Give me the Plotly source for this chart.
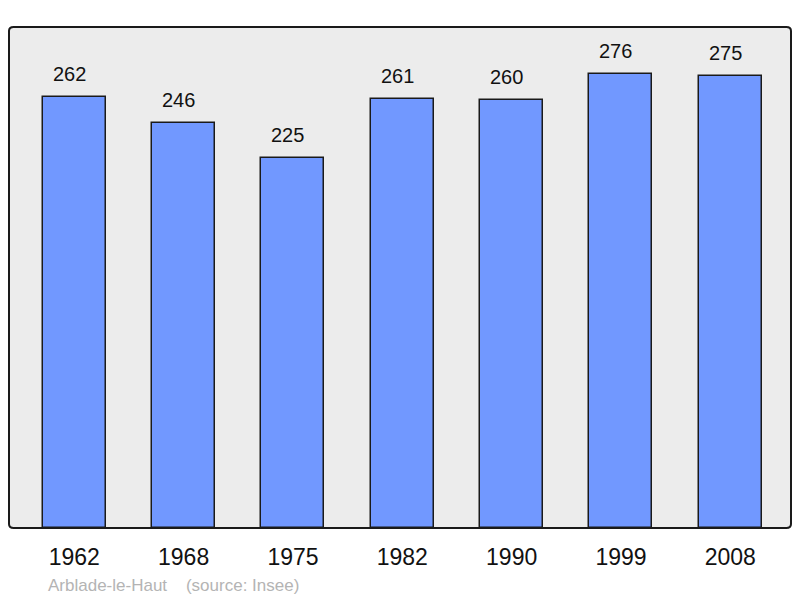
import plotly.graph_objs as go

# Population data (Insee)
years = ['1962', '1968', '1975', '1982', '1990', '1999', '2008']
population = [262, 246, 225, 261, 260, 276, 275]
commune = 'Arblade-le-Haut'
source = '(source: Insee)'

bar_color = '#7198ff'
frame_color = '#1a1a1a'

fig = go.Figure()

fig.add_trace(go.Bar(x=years,
                     y=population,
                     width=0.576,
                     marker={'color': bar_color,
                             'line': {'color': frame_color, 'width': 1.5}},
                     hoverinfo='x+y'))

# value labels above bars (category axis -> use index positions)
for i, val in enumerate(population):
    fig.add_annotation(x=i, y=val, text=str(val),
                       showarrow=False, xshift=-5, yshift=23, yanchor='middle',
                       font={'size': 20, 'color': '#111111'})

fig.add_annotation(xref='paper', yref='paper', x=(46 - 9) / 782, y=-0.114,
                   xanchor='left', yanchor='middle', showarrow=False,
                   text=commune + '&nbsp;&nbsp;&nbsp;&nbsp;' + source,
                   font={'size': 17, 'color': '#b4b4b4'})

# plot frame with rounded corners
fig.add_shape(type='path', xref='paper', yref='paper', layer='below',
              path='M 0.006,0 L 0.994,0 Q 1,0 1,0.008 L 1,0.992 Q 1,1 0.994,1 '
                   'L 0.006,1 Q 0,1 0,0.992 L 0,0.008 Q 0,0 0.006,0 Z',
              fillcolor='#ececec', line={'color': frame_color, 'width': 2})

fig.update_layout(width=800, height=598,
                  margin={'l': 9, 'r': 9, 't': 27, 'b': 70},
                  paper_bgcolor='white',
                  plot_bgcolor='rgba(0,0,0,0)',
                  font={'family': 'Liberation Sans, Arial, sans-serif'},
                  showlegend=False,
                  bargap=0)

fig.update_xaxes(type='category', range=[-0.597, 6.555], showgrid=False,
                 zeroline=False, showline=False, ticks='',
                 ticklabelstandoff=13,
                 tickfont={'size': 23, 'color': '#111111'})
fig.update_yaxes(range=[0, 304.6], showgrid=False, zeroline=False,
                 showline=False, showticklabels=False, ticks='')

fig.write_html('out.html', config={'displayModeBar': False},
               post_script="document.body.style.margin='0px';")
